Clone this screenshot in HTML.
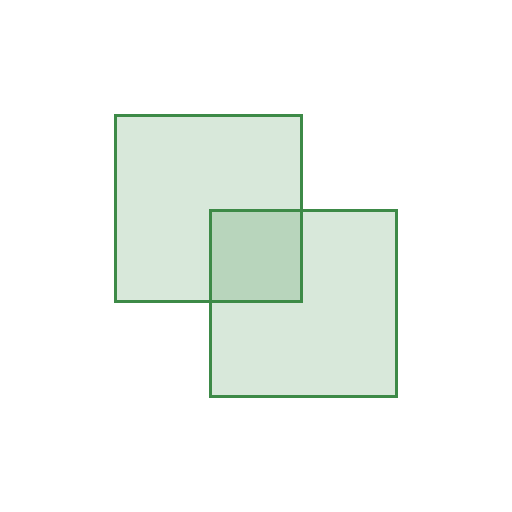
<!DOCTYPE html>
<html>
<head>
<meta charset="utf-8">
<style>
  html, body { margin: 0; padding: 0; background: #ffffff; }
  svg { display: block; }
</style>
</head>
<body>
<svg width="512" height="512" viewBox="0 0 512 512">
  <rect x="0" y="0" width="512" height="512" fill="#ffffff"/>
  <rect x="115.5" y="115.5" width="186" height="186" fill="#3d8a47" fill-opacity="0.2" stroke="#3d8a47" stroke-width="3"/>
  <rect x="210.5" y="210.5" width="186" height="186" fill="#3d8a47" fill-opacity="0.2" stroke="#3d8a47" stroke-width="3"/>
</svg>
</body>
</html>
